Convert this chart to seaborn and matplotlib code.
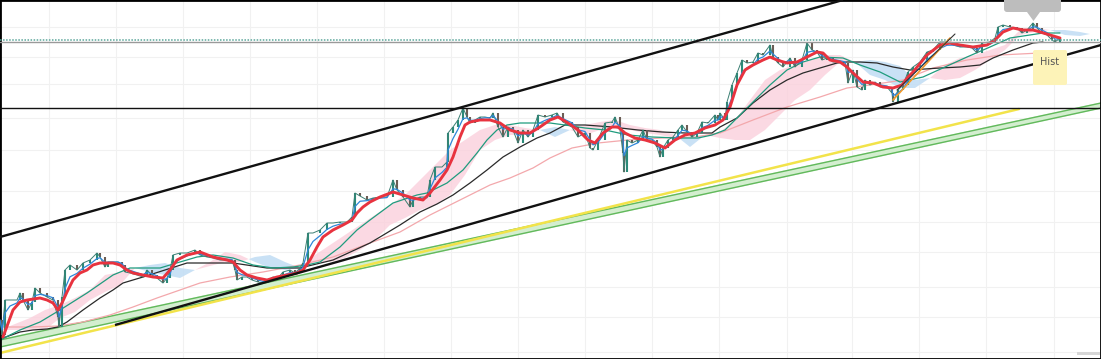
import numpy as np
import pandas as pd
import seaborn as sns
import matplotlib.pyplot as plt
from matplotlib.patches import FancyBboxPatch, Polygon, Rectangle

sns.set_theme(style="white")

close_pts = [(0,320),(2,335),(5,300),(10,300),(17,300),(20,293),(23,300),(28,310),(32,302),(35,288),
    (40,293),(47,297),(53,300),(58,317),(59,327),(62,297),(65,270),(70,265),(77,270),(83,263),
    (90,260),(97,253),(100,257),(105,267),(108,262),(113,262),(118,262),(122,265),(125,272),(130,273),
    (137,275),(143,277),(147,270),(152,275),(157,278),(163,283),(167,278),(170,270),(173,255),(180,253),
    (187,253),(195,250),(200,255),(207,257),(213,258),(220,260),(227,260),(232,260),(235,270),(237,280),
    (242,277),(247,277),(252,280),(258,282),(263,283),(268,280),(273,277),(278,278),(283,272),(290,270),
    (295,273),(300,268),(303,263),(308,233),(313,233),(320,230),(327,223),(333,223),(340,222),(347,222),
    (352,217),(355,193),(360,196),(367,200),(373,198),(380,197),(387,197),(393,180),(397,190),(403,197),
    (410,207),(413,200),(420,197),(427,197),(430,180),(435,167),(442,167),(447,162),(448,133),(453,127),
    (458,120),(463,108),(467,117),(470,123),(475,120),(480,117),(485,117),(490,118),(493,113),(498,127),
    (503,137),(508,127),(513,130),(518,143),(523,130),(528,137),(533,130),(538,115),(545,117),(552,115),
    (557,113),(563,122),(572,127),(578,137),(585,133),(590,148),(593,150),(598,140),(605,123),(612,122),
    (615,117),(620,130),(623,153),(624,172),(627,140),(632,143),(638,140),(643,130),(647,140),(652,140),
    (657,147),(660,157),(663,148),(668,140),(673,137),(678,130),(682,125),(687,132),(692,137),(697,133),
    (702,122),(708,123),(715,115),(718,120),(720,113),(725,120),(727,102),(732,85),(737,73),(742,60),
    (747,63),(753,62),(758,53),(763,55),(770,45),(773,57),(778,63),(783,67),(790,58),(795,67),
    (802,60),(807,43),(812,50),(817,52),(822,60),(827,58),(833,62),(840,62),(845,63),(848,83),
    (853,70),(857,87),(862,90),(865,80),(870,85),(875,82),(880,87),(887,87),(892,93),(893,102),
    (898,90),(903,85),(908,72),(913,67),(920,62),(927,52),(933,50),(940,42),(947,42),(953,45),
    (960,47),(967,47),(972,48),(977,53),(982,43),(990,42),(995,38),(998,27),(1003,25),(1010,27),
    (1017,28),(1022,33),(1027,30),(1033,23),(1037,28),(1042,33),(1047,35),(1052,40),(1055,42),(1060,38)]

# moving averages
red_ma = [(3,337),(13,310),(20,302),(27,300),(40,298),(47,300),(53,303),(58,310),(62,303),(67,292),
    (73,280),(80,273),(87,270),(93,265),(100,263),(113,263),(120,265),(127,270),(133,273),(143,275),
    (153,277),(163,278),(170,270),(177,260),(187,255),(200,252),(213,257),(227,260),(233,262),(240,270),
    (247,275),(257,278),(267,280),(277,277),(287,275),(297,273),(303,270),(310,260),(317,247),(323,237),
    (333,230),(343,225),(352,220),(357,213),(363,207),(370,202),(380,197),(393,192),(403,195),(413,198),
    (423,200),(430,193),(440,180),(447,170),(453,157),(460,137),(465,125),(470,122),(480,120),(490,120),
    (500,123),(510,130),(520,133),(530,133),(540,127),(550,120),(558,117),(568,123),(578,130),(588,140),
    (595,143),(603,133),(612,127),(618,127),(625,133),(635,138),(645,140),(655,143),(665,148),(675,140),
    (685,135),(695,133),(705,128),(715,125),(723,120),(730,107),(737,85),(745,70),(753,65),(763,60),
    (770,57),(777,60),(787,63),(797,62),(807,57),(817,52),(823,53),(830,60),(840,62),(847,67),
    (853,73),(863,82),(873,83),(883,87),(893,88),(902,85),(908,77),(913,72),(927,55),(940,45),
    (950,43),(960,45),(973,47),(987,45),(995,40),(1003,32),(1013,28),(1023,30),(1033,30),(1040,32),
    (1050,35),(1060,38)]
teal_ma = [(0,340),(20,330),(40,322),(60,310),(87,293),(113,275),(130,268),(160,268),(180,262),(197,257),
    (213,255),(233,258),(253,265),(273,268),(293,267),(307,265),(320,262),(340,247),(357,230),(370,220),
    (393,203),(417,195),(427,193),(447,183),(463,170),(477,153),(487,140),(497,130),(507,125),(520,123),
    (550,123),(565,125),(585,128),(605,130),(628,135),(652,137),(678,138),(698,138),(712,135),(725,130),
    (737,118),(750,105),(770,85),(787,70),(803,62),(820,57),(843,58),(860,65),(880,72),(900,82),
    (923,77),(945,67),(967,57),(990,47),(1010,38),(1043,33),(1060,33)]
black_ma = [(3,338),(20,332),(33,330),(47,329),(58,327),(67,322),(83,310),(100,298),(113,290),(123,283),
    (143,277),(187,263),(233,263),(267,268),(300,268),(333,260),(370,243),(400,225),(420,212),(437,204),
    (453,195),(470,183),(487,170),(503,157),(520,147),(537,138),(550,133),(565,125),(585,125),(612,127),
    (638,130),(662,132),(685,133),(712,133),(720,127),(737,118),(753,103),(770,90),(787,80),(803,73),
    (820,68),(837,63),(847,62),(860,62),(877,63),(893,67),(910,70),(940,68),(960,67),(980,65),
    (993,58),(1013,50),(1033,43),(1043,42)]
pink_ma = [(3,327),(33,327),(58,326),(83,322),(110,315),(133,307),(157,298),(180,290),(200,283),(230,277),
    (263,272),(300,265),(333,257),(370,243),(400,232),(430,215),(460,200),(490,185),(510,178),(533,168),
    (550,158),(572,148),(598,143),(628,140),(662,138),(695,137),(720,133),(753,120),(787,107),(820,97),
    (847,88),(870,85),(903,80),(933,68),(967,60),(1000,55),(1040,53),(1060,52)]

# cloud: (bar, span a, span b)
cloud = [(0,330,330),(30,318,330),(45,310,330),(60,305,318),(75,298,312),(90,290,300),(105,275,292),
    (120,272,285),(135,268,268),(150,272,265),(165,275,263),(180,278,268),(195,270,270),(210,262,266),
    (225,252,262),(240,255,262),(255,262,257),(270,268,255),(285,270,262),(300,268,268),(315,255,262),
    (330,245,262),(345,235,258),(360,225,250),(375,215,240),(390,205,225),(405,195,218),(420,180,210),
    (435,165,205),(450,150,195),(465,140,175),(480,130,150),(495,125,140),(510,125,135),(525,128,135),
    (540,130,130),(555,137,127),(570,130,130),(585,125,135),(600,122,130),(615,120,128),(630,125,130),
    (645,128,133),(660,130,135),(675,135,138),(690,147,138),(705,135,135),(720,132,138),(735,120,140),
    (750,100,140),(765,80,130),(780,70,115),(795,65,100),(810,60,90),(825,55,75),(840,55,62),(855,62,62),
    (870,75,60),(885,80,62),(900,88,66),(915,88,80),(930,78,78),(945,65,80),(960,58,78),(975,55,70),
    (990,50,60),(1005,45,50),(1020,30,35),(1035,28,32),(1050,30,30),(1065,35,30),(1080,36,32),(1090,34,34)]

# drawn trend lines: (bar, level) end points
upper_channel = [(0,237),(843,0)]
lower_channel = [(115,325),(1101,45)]
yellow_line = [(0,353),(1019,109)]
green_upper = [(0,340),(1101,103)]
green_lower = [(0,347),(1101,108)]
orange_line = [(893,100),(950,38)]
thin_black = [(897,90),(955,34)]
resistance = 108
dotted_level = 40
gray_level = 42

grid_x = [49,116,183,250,317,384,451,518,585,652,719,787,852,919,986,1054]
grid_y = [27,57,84,118,150,191,222,252,287,317,352]

px, py = map(np.array, zip(*close_pts))

fig = plt.figure(figsize=(11.01, 3.59), dpi=100)
ax = fig.add_axes([0, 0, 1, 1])
ax.set_xlim(0, 1101)
ax.set_ylim(359, 0)

for gx in grid_x:
    ax.axvline(gx, color="#f1f1f1", lw=0.8, zorder=0)
for gy in grid_y:
    ax.axhline(gy, color="#f1f1f1", lw=0.8, zorder=0)

# cloud fill
cx, ca, cb = map(np.array, zip(*cloud))
ax.fill_between(cx, ca, cb, where=ca <= cb, interpolate=True, color="#fbd0dc", alpha=0.8, lw=0, zorder=1)
ax.fill_between(cx, ca, cb, where=ca >= cb, interpolate=True, color="#c4def4", alpha=0.9, lw=0, zorder=1)

# green band
gxs = [p[0] for p in green_upper]
ax.fill_between(gxs, [p[1] for p in green_upper], [p[1] for p in green_lower], color="#d3eecf", zorder=1)
for seg in (green_upper, green_lower):
    ax.plot(*zip(*seg), color="#62b95c", lw=1.0, zorder=2)
ax.plot(*zip(*yellow_line), color="#f2e34a", lw=1.8, zorder=2)

# moving averages
sns.lineplot(x=[p[0] for p in pink_ma], y=[p[1] for p in pink_ma], color="#f3a8ac", lw=0.9, ax=ax, zorder=2)
sns.lineplot(x=[p[0] for p in black_ma], y=[p[1] for p in black_ma], color="#2a2a2a", lw=0.9, ax=ax, zorder=2)
sns.lineplot(x=[p[0] for p in teal_ma], y=[p[1] for p in teal_ma], color="#1f9c7e", lw=0.9, ax=ax, zorder=2)

# candles
up = py[1:] <= py[:-1]
cols = np.where(up, "#2b8a78", "#6b5d55")
ax.vlines(px[1:], py[:-1], py[1:], colors=cols, lw=1.5, zorder=3)
ax.plot(px, py, color="#3b7f73", lw=0.7, zorder=3)
blue = pd.Series(py).ewm(span=3).mean()
sns.lineplot(x=px, y=blue.values, color="#2f86d9", lw=0.9, ax=ax, zorder=3, sort=False)
sns.lineplot(x=[p[0] for p in red_ma], y=[p[1] for p in red_ma], color="#e8333f", lw=2.1, ax=ax, zorder=4)

# levels and trend lines
ax.axhline(dotted_level, color="#5aa59a", lw=1.1, ls=(0, (1, 1)), zorder=5)
ax.axhline(gray_level, color="#9a9a9a", lw=1.0, zorder=5)
ax.axhline(resistance, color="#111111", lw=1.0, zorder=5)
for seg in (upper_channel, lower_channel):
    ax.plot(*zip(*seg), color="#111111", lw=1.7, zorder=5, solid_capstyle="butt")
ax.plot(*zip(*orange_line), color="#f39a2b", lw=1.2, zorder=5)
ax.plot(*zip(*thin_black), color="#333333", lw=0.8, zorder=5)

# callouts
ax.add_patch(FancyBboxPatch((1004, -4), 57, 16, boxstyle="round,pad=0,rounding_size=3",
                            fc="#bdbdbd", ec="none", zorder=6))
ax.add_patch(Polygon([(1027, 12), (1040, 12), (1033.5, 21)], closed=True, fc="#bdbdbd", ec="none", zorder=6))
ax.add_patch(FancyBboxPatch((1033, 50), 34, 35, boxstyle="round,pad=0,rounding_size=2",
                            fc="#fdf3b8", ec="none", zorder=6))
ax.text(1050, 62, "Hist", ha="center", va="center", fontsize=7, color="#555555", zorder=7)
ax.add_patch(Rectangle((1077, 352), 23, 3, fc="#d6d6d6", ec="none", zorder=6))

ax.set_xticks([])
ax.set_yticks([])
ax.set(xlabel="", ylabel="")
for s in ax.spines.values():
    s.set_color("black")
    s.set_linewidth(2)

fig.savefig("out.png", dpi=100)
